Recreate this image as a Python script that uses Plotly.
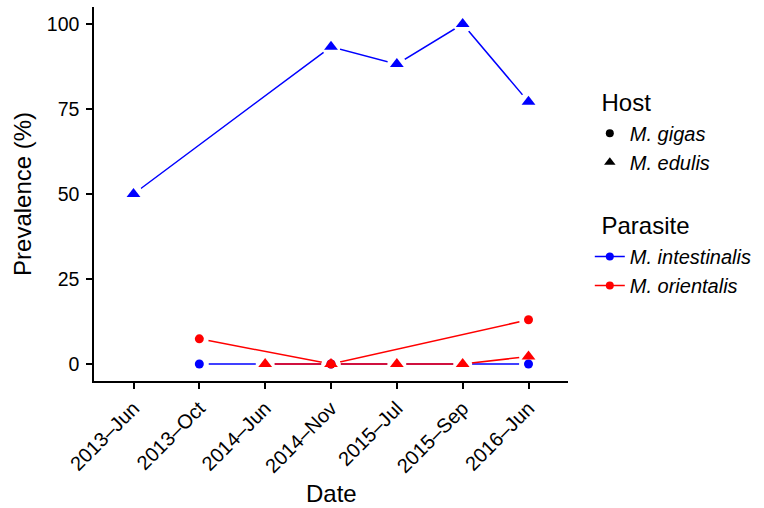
import plotly.graph_objects as go

dates = ["2013–Jun", "2013–Oct", "2014–Jun", "2014–Nov", "2015–Jul", "2015–Sep", "2016–Jun"]

# M. intestinalis in M. edulis
int_edulis_x = ["2013–Jun", "2014–Nov", "2015–Jul", "2015–Sep", "2016–Jun"]
int_edulis_y = [50.0, 93.3, 88.2, 100.0, 77.1]
# M. intestinalis in M. gigas
int_gigas_x = ["2013–Oct", "2014–Nov", "2016–Jun"]
int_gigas_y = [0.0, 0.0, 0.0]
# M. orientalis in M. gigas
ori_gigas_x = ["2013–Oct", "2014–Nov", "2016–Jun"]
ori_gigas_y = [7.4, 0.0, 13.0]
# M. orientalis in M. edulis
ori_edulis_x = ["2014–Jun", "2014–Nov", "2015–Jul", "2015–Sep", "2016–Jun"]
ori_edulis_y = [0.0, 0.0, 0.0, 0.0, 2.2]

y_ticks = [0, 25, 50, 75, 100]

BLUE = "#0000FF"
RED = "#FF0000"
FONT = "Liberation Sans, Arial, sans-serif"

series = [
    (int_edulis_x, int_edulis_y, BLUE, "triangle-up", 12),
    (int_gigas_x, int_gigas_y, BLUE, "circle", 9),
    (ori_gigas_x, ori_gigas_y, RED, "circle", 9),
    (ori_edulis_x, ori_edulis_y, RED, "triangle-up", 12),
]

fig = go.Figure()

# lines
for x, y, c, s, sz in series:
    fig.add_trace(go.Scatter(x=x, y=y, mode="lines", showlegend=False, hoverinfo="skip",
                             line=dict(color=c, width=1.5)))
# white halos (gap between line and point, as in the original)
for x, y, c, s, sz in series:
    fig.add_trace(go.Scatter(x=x, y=y, mode="markers", showlegend=False, hoverinfo="skip",
                             marker=dict(color="white", symbol="circle", size=19)))
# points
for x, y, c, s, sz in series:
    fig.add_trace(go.Scatter(x=x, y=y, mode="markers", showlegend=False,
                             marker=dict(color=c, symbol=s, size=sz)))

# Legend entries
fig.add_trace(go.Scatter(x=[None], y=[None], mode="markers", name="<i>M. gigas</i>",
                         marker=dict(color="black", symbol="circle", size=8),
                         legendgroup="host",
                         legendgrouptitle=dict(text="\u00a0Host", font=dict(size=24))))
fig.add_trace(go.Scatter(x=[None], y=[None], mode="markers", name="<i>M. edulis</i>",
                         marker=dict(color="black", symbol="triangle-up", size=10),
                         legendgroup="host"))
fig.add_trace(go.Scatter(x=[None], y=[None], mode="lines+markers", name="<i>M. intestinalis</i>",
                         line=dict(color=BLUE, width=1.5), marker=dict(color=BLUE, size=8),
                         legendgroup="para",
                         legendgrouptitle=dict(text="\u00a0Parasite", font=dict(size=24))))
fig.add_trace(go.Scatter(x=[None], y=[None], mode="lines+markers", name="<i>M. orientalis</i>",
                         line=dict(color=RED, width=1.5), marker=dict(color=RED, size=8),
                         legendgroup="para"))

# axis titles as annotations for exact placement
fig.add_annotation(text="Date", xref="paper", yref="paper", x=0.5, y=-0.302,
                   xanchor="center", yanchor="middle", showarrow=False, font=dict(size=24))
fig.add_annotation(text="Prevalence (%)", xref="paper", yref="paper", x=-0.152, y=0.5,
                   xanchor="center", yanchor="middle", textangle=-90, showarrow=False,
                   font=dict(size=24))

fig.update_layout(
    width=764, height=508,
    margin=dict(l=94, r=196, t=7, b=127),
    plot_bgcolor="white", paper_bgcolor="white",
    font=dict(family=FONT, color="black", size=19.5),
    xaxis=dict(
        type="category", categoryorder="array", categoryarray=dates,
        range=[-0.6, 6.6], showline=True, linecolor="black", linewidth=1.5,
        ticks="outside", ticklen=6, tickcolor="black", tickwidth=1.5,
        tickangle=-45, showgrid=False, zeroline=False, automargin=False,
        tickfont=dict(size=20),
    ),
    yaxis=dict(
        range=[-5, 105], tickvals=y_ticks, ticktext=[str(t) for t in y_ticks],
        showline=True, linecolor="black", linewidth=1.5,
        ticks="outside", ticklen=6, tickcolor="black", tickwidth=1.5,
        ticklabelstandoff=3,
        showgrid=False, zeroline=False, automargin=False, tickfont=dict(size=19.5),
    ),
    legend=dict(
        x=1.046, xanchor="left", y=0.806, yanchor="top",
        font=dict(size=20), groupclick="toggleitem",
        tracegroupgap=31, itemwidth=30,
    ),
)

fig.write_html("out.html", config={"displayModeBar": False},
               post_script="document.body.style.margin='0';")
